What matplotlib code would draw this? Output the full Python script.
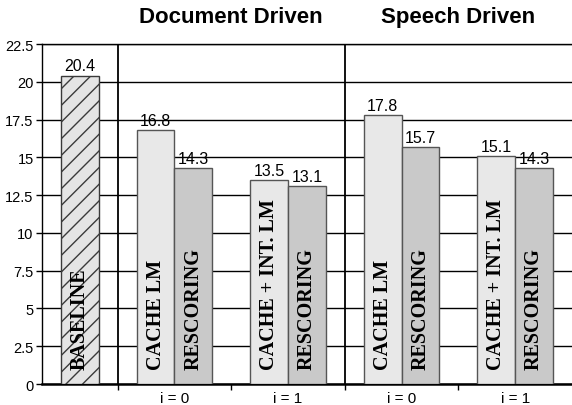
import matplotlib
matplotlib.use("Agg")
import matplotlib.pyplot as plt
import numpy as np

plt.rcParams['font.family'] = ['Liberation Sans', 'DejaVu Sans']

# word error rates per configuration
baseline = 20.4
group_labels = ['i = 0', 'i = 1', 'i = 0', 'i = 1']
first_names = ['CACHE LM', 'CACHE + INT. LM', 'CACHE LM', 'CACHE + INT. LM']
first_vals = [16.8, 13.5, 17.8, 15.1]
rescore_vals = [14.3, 13.1, 15.7, 14.3]
panel_titles = ['Document Driven', 'Speech Driven']

fig = plt.figure(figsize=(5.72, 4.06), dpi=100)
ax = fig.add_axes([0.0734, 0.0517, 0.9266, 0.8374])

edge = '#555555'
centers = np.array([3.5, 6.5, 9.5, 12.5])

# baseline bar, hatched
ax.bar(1.0, baseline, width=1.0, color='#e4e4e4', edgecolor='#3a3a3a',
       hatch='//', linewidth=1.0, zorder=3)
ax.text(1.0, baseline + 0.15, f'{baseline:.1f}', ha='center', va='bottom',
        fontsize=11.5, zorder=4)
ax.text(1.0, 1.0, 'BASELINE', rotation=90, ha='center', va='bottom',
        family='Liberation Serif', fontweight='bold', fontsize=14.5, zorder=4)

b1 = ax.bar(centers - 0.5, first_vals, width=1.0, color='#e8e8e8',
            edgecolor=edge, linewidth=1.0, zorder=3)
b2 = ax.bar(centers + 0.5, rescore_vals, width=1.0, color='#c9c9c9',
            edgecolor=edge, linewidth=1.0, zorder=3)

for x, v, name in zip(centers - 0.5, first_vals, first_names):
    ax.text(x, v + 0.15, f'{v:.1f}', ha='center', va='bottom', fontsize=11.5, zorder=4)
    ax.text(x, 1.0, name, rotation=90, ha='center', va='bottom',
            family='Liberation Serif', fontweight='bold', fontsize=14.5, zorder=4)
for x, v in zip(centers + 0.5, rescore_vals):
    ax.text(x, v + 0.15, f'{v:.1f}', ha='center', va='bottom', fontsize=11.5, zorder=4)
    ax.text(x, 1.0, 'RESCORING', rotation=90, ha='center', va='bottom',
            family='Liberation Serif', fontweight='bold', fontsize=14.5, zorder=4)

# separators between baseline / document / speech panels
for xs in (2, 8):
    ax.axvline(xs, color='black', linewidth=1.3, zorder=2)

ax.set_xlim(0, 14)
ax.set_ylim(0, 22.5)
ax.set_yticks(np.arange(0, 22.6, 2.5))
ax.set_yticklabels(['0', '2.5', '5', '7.5', '10', '12.5', '15', '17.5', '20', '22.5'])
ax.yaxis.grid(True, color='black', linewidth=1.0)
ax.set_axisbelow(True)

ax.set_xticks([2, 5, 8, 11])
ax.set_xticklabels([])
ax.set_xticks(centers, minor=True)
ax.set_xticklabels(group_labels, minor=True, fontsize=11)
ax.tick_params(axis='x', which='major', direction='out', length=4, width=1, color='black')
ax.tick_params(axis='x', which='minor', length=0, pad=5)
ax.tick_params(axis='y', direction='out', length=4, width=1, labelsize=10.5, pad=2)

ax.spines['right'].set_visible(False)
ax.spines['top'].set_linewidth(1.0)
ax.spines['left'].set_linewidth(1.0)
ax.spines['bottom'].set_linewidth(1.8)

for xc, t in zip([5, 11], panel_titles):
    ax.text(xc, 1.0 + 28 / 340, t, transform=ax.get_xaxis_transform(),
            ha='center', va='center', fontsize=16, fontweight='bold')

fig.savefig('out.png', dpi=100)
